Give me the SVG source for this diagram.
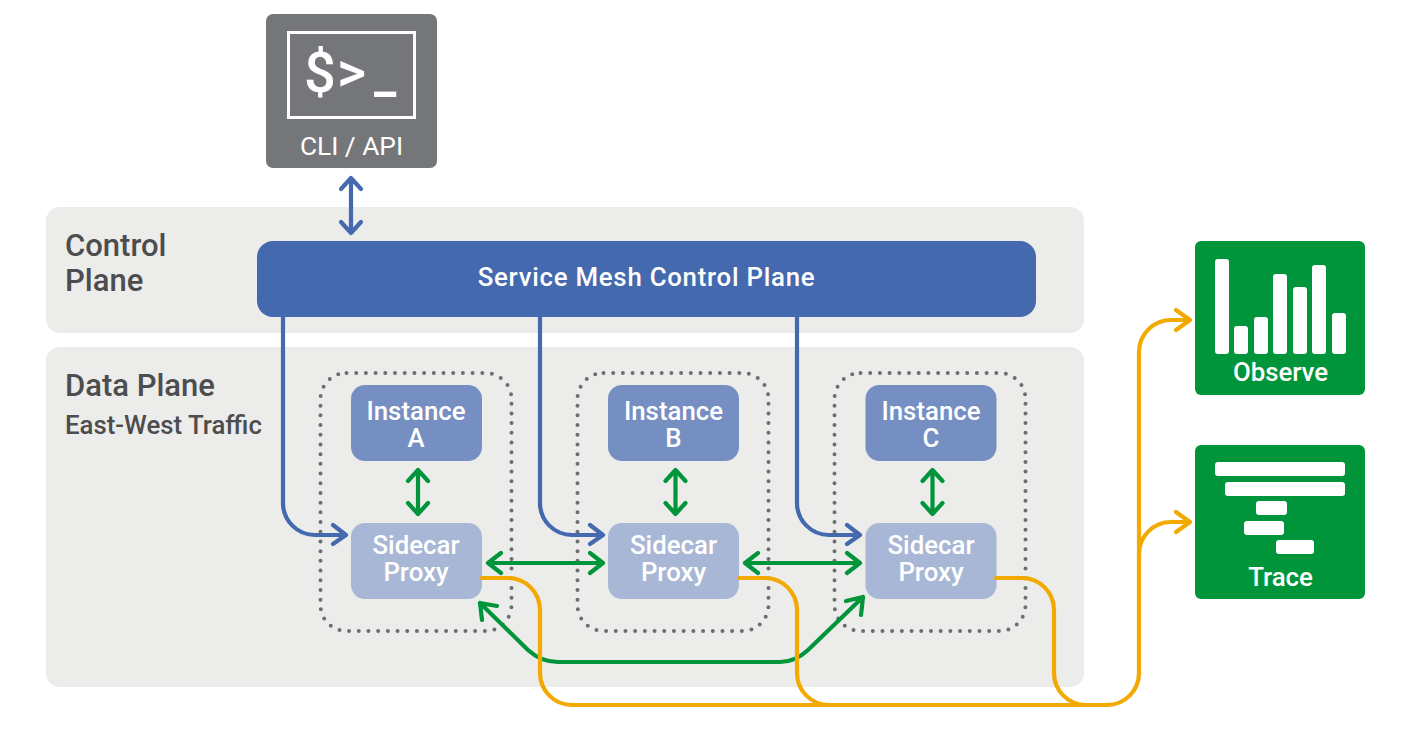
<svg xmlns="http://www.w3.org/2000/svg" width="1420" height="734" viewBox="0 0 1420 734">
<style>
text{font-family:Roboto,"Liberation Sans",sans-serif;fill:#fff;text-anchor:middle;font-weight:500}
.lbl{fill:#4c4d4f;text-anchor:start;font-weight:500;font-size:31px}
.inst{fill:#758fc2}
.side{fill:#a8b7d5}
.dot{fill:none;stroke:#6d6e71;stroke-width:4;stroke-linecap:round;stroke-dasharray:0 9.7}
.g{fill:#fff}
.c{fill:none;stroke-width:4.2;stroke-linecap:round;stroke-linejoin:round}
.bl{stroke:#4569ae}.gr{stroke:#00953b}.or{stroke:#f2a900}
.t{font-size:25.800px}
</style>
<rect x="0" y="0" width="1420" height="734" fill="#fff"/>
<g id="control-panel"><rect x="46" y="207" width="1038" height="126" rx="14" fill="#ececea"/>
<text class="lbl" x="65" y="256">Control</text><text class="lbl" x="65" y="291">Plane</text></g>
<g id="data-panel"><rect x="46" y="347" width="1038" height="340" rx="14" fill="#ececea"/>
<text class="lbl" x="65" y="396">Data Plane</text><text class="lbl" x="65" y="434" style="font-size:25.800px">East-West Traffic</text></g>
<g id="pod-a"><rect class="dot" x="320.500" y="373" width="191" height="258" rx="26"/></g>
<g id="pod-b"><rect class="dot" x="577.500" y="373" width="191" height="258" rx="26"/></g>
<g id="pod-c"><rect class="dot" x="834.500" y="373" width="191" height="258" rx="26"/></g>
<g id="cli"><rect x="266" y="14" width="171" height="154" rx="7" fill="#757679"/>
<rect x="288.500" y="32.500" width="126" height="85" fill="none" stroke="#fff" stroke-width="3"/>
<text x="320" y="92" style="font-size:56px">$</text>
<text x="351.500" y="91" style="font-size:56px">&gt;</text>
<text x="385" y="92" style="font-size:50px;font-weight:700">_</text>
<text x="351.500" y="155" class="t" style="font-size:26.300px;font-weight:400">CLI / API</text></g>
<g id="control-plane"><rect x="257" y="241" width="779" height="76" rx="16" fill="#4569ae"/>
<text x="646.500" y="286" class="t" style="letter-spacing:.75px">Service Mesh Control Plane</text></g>
<g id="instance-a"><rect class="inst" x="351" y="385" width="131" height="76" rx="14"/><text x="416" y="420" class="t">Instance</text><text x="416" y="447" class="t">A</text></g>
<g id="instance-b"><rect class="inst" x="608" y="385" width="131" height="76" rx="14"/><text x="673.500" y="420" class="t">Instance</text><text x="673.500" y="447" class="t">B</text></g>
<g id="instance-c"><rect class="inst" x="865.500" y="385" width="131" height="76" rx="14"/><text x="931" y="420" class="t">Instance</text><text x="931" y="447" class="t">C</text></g>
<g id="proxy-a"><rect class="side" x="351" y="523" width="131" height="76" rx="14"/><text x="416" y="554" class="t">Sidecar</text><text x="416" y="581" class="t">Proxy</text></g>
<g id="proxy-b"><rect class="side" x="608" y="523" width="131" height="76" rx="14"/><text x="673.500" y="554" class="t">Sidecar</text><text x="673.500" y="581" class="t">Proxy</text></g>
<g id="proxy-c"><rect class="side" x="865.500" y="523" width="131" height="76" rx="14"/><text x="931" y="554" class="t">Sidecar</text><text x="931" y="581" class="t">Proxy</text></g>
<g id="observe"><rect x="1195" y="241" width="170" height="154" rx="6" fill="#00953b"/>
<rect class="g" x="1215" y="259" width="14" height="95" rx="3"/><rect class="g" x="1234" y="326" width="14" height="28" rx="3"/><rect class="g" x="1254" y="317" width="14" height="37" rx="3"/><rect class="g" x="1273" y="274" width="14" height="80" rx="3"/><rect class="g" x="1293" y="287" width="14" height="67" rx="3"/><rect class="g" x="1312" y="265" width="14" height="89" rx="3"/><rect class="g" x="1332" y="313" width="14" height="41" rx="3"/>
<text x="1280.500" y="381" class="t">Observe</text></g>
<g id="trace"><rect x="1195" y="445" width="170" height="154" rx="6" fill="#00953b"/>
<rect class="g" x="1215" y="462" width="130" height="14" rx="3"/><rect class="g" x="1225" y="482" width="120" height="14" rx="3"/><rect class="g" x="1256" y="501" width="31" height="14" rx="3"/><rect class="g" x="1244" y="521" width="40" height="14" rx="3"/><rect class="g" x="1276" y="540" width="38" height="14" rx="3"/>
<text x="1280.500" y="586" class="t">Trace</text></g>
<g id="connectors">
<g class="c bl">
<path d="M351 233V178M341 189L351 178L361 189M341 222L351 233L361 222"/>
<path d="M283 317V503A32 32 0 0 0 315 535H345M333 525L346 535L333 544"/>
<path d="M540 317V503A32 32 0 0 0 572 535H602M590 525L603 535L590 544"/>
<path d="M797 317V503A32 32 0 0 0 829 535H859M847 525L860 535L847 544"/>
</g>
<g class="c gr">
<path d="M418 470V513M408 481L418 470L428 481M408 503L418 514L428 503"/>
<path d="M675.500 470V513M665.500 481L675.500 470L685.500 481M665.500 503L675.500 514L685.500 503"/>
<path d="M932.500 470V513M922.500 481L932.500 470L942.500 481M922.500 503L932.500 514L942.500 503"/>
<path d="M488 563H603M501 553L488 563L501 573M590 553L603 563L590 573"/>
<path d="M745 563H860M758 553L745 563L758 573M847 553L860 563L847 573"/>
<path d="M480 603L528 650Q541 662 558 662H780Q795 662 808 650L863 597M480 603L497 606M480 603L482 620M863 597L846 601M863 597L861 615"/>
</g>
<g class="c or">
<path d="M482 578H508A32 32 0 0 1 540 610V673A32 32 0 0 0 572 705H1107A32 32 0 0 0 1139 673V352A32 32 0 0 1 1171 320H1189M1176 310L1190 320L1176 330"/>
<path d="M739 578H765A32 32 0 0 1 797 610V673A32 32 0 0 0 829 705"/>
<path d="M996 578H1022A32 32 0 0 1 1054 610V673A32 32 0 0 0 1086 705"/>
<path d="M1139 554A32 32 0 0 1 1171 522H1189M1176 512L1190 522L1176 532"/>
</g>
</g>
</svg>
